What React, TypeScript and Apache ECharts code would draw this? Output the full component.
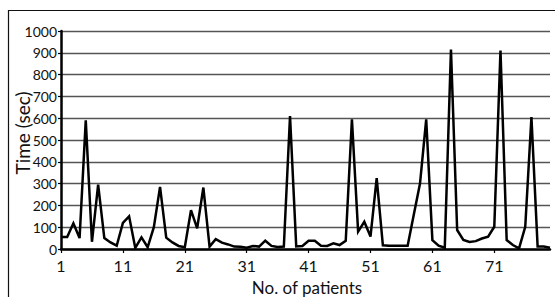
import React, { useEffect, useRef } from "react";
import * as echarts from "echarts";

const patients: string[] = Array.from({ length: 80 }, (_, i) => String(i + 1));
const timeSec: number[] = [
  55, 55, 118, 50, 590, 33, 295, 50, 30, 15,
  120, 150, 5, 53, 8, 100, 285, 52, 30, 14,
  8, 178, 95, 282, 11, 45, 29, 21, 11, 10,
  6, 14, 11, 38, 14, 9, 11, 610, 12, 14,
  38, 38, 15, 14, 26, 18, 38, 595, 80, 125,
  57, 325, 17, 15, 15, 15, 15, 158, 300, 595,
  41, 15, 6, 915, 87, 42, 32, 36, 48, 57,
  102, 910, 41, 18, 3, 102, 605, 11, 11, 6,
];
const yMin = 0;
const yMax = 1000;
const yStep = 100;
const xAxisName = "No. of patients";
const yAxisName = "Time (sec)";

const FONT = "Lato, 'Open Sans', sans-serif";

export default function App() {
  const ref = useRef<HTMLDivElement>(null);
  useEffect(() => {
    if (!ref.current) return;
    const chart = echarts.init(ref.current, undefined, { renderer: "svg" });
    chart.setOption({
      animation: false,
      backgroundColor: "#ffffff",
      graphic: [
        {
          type: "rect",
          shape: { x: 8.5, y: 10.5, width: 600, height: 400 },
          style: { fill: "none", stroke: "#111", lineWidth: 1.2 },
          silent: true,
          z: -1,
        },
        {
          type: "text",
          x: 307,
          y: 287,
          style: {
            text: xAxisName,
            font: `17px ${FONT}`,
            fill: "#111",
            align: "center",
            verticalAlign: "middle",
          },
        },
        {
          type: "text",
          x: 22,
          y: 133,
          rotation: Math.PI / 2,
          style: {
            text: yAxisName,
            font: `19px ${FONT}`,
            fill: "#111",
            align: "center",
            verticalAlign: "middle",
          },
        },
      ],
      grid: { left: 61, right: 5, top: 31, bottom: 48, containLabel: false },
      xAxis: {
        type: "category",
        data: patients,
        boundaryGap: false,
        axisLine: { show: true, lineStyle: { color: "#000", width: 2.5 } },
        axisTick: {
          show: true,
          interval: 9,
          length: 4,
          lineStyle: { color: "#000", width: 1.2 },
        },
        axisLabel: {
          interval: 9,
          color: "#111",
          fontFamily: FONT,
          fontSize: 16,
          margin: 8,
        },
        splitLine: { show: false },
      },
      yAxis: {
        type: "value",
        min: yMin,
        max: yMax,
        interval: yStep,
        axisLine: { show: true, lineStyle: { color: "#000", width: 2.5 } },
        axisTick: { show: true, length: 3, lineStyle: { color: "#000", width: 1.2 } },
        axisLabel: {
          color: "#111",
          fontFamily: FONT,
          fontSize: 14,
          margin: 4,
          formatter: (v: number) => String(v),
        },
        splitLine: { show: true, lineStyle: { color: "#555", width: 1.3 } },
      },
      series: [
        {
          type: "line",
          data: timeSec,
          showSymbol: false,
          symbol: "none",
          lineStyle: { color: "#000", width: 2.5, join: "miter" },
          z: 3,
        },
      ],
    });
    return () => chart.dispose();
  }, []);
  return (
    <div
      ref={ref}
      style={{ position: "fixed", left: 0, top: 0, width: 555, height: 297 }}
    />
  );
}
